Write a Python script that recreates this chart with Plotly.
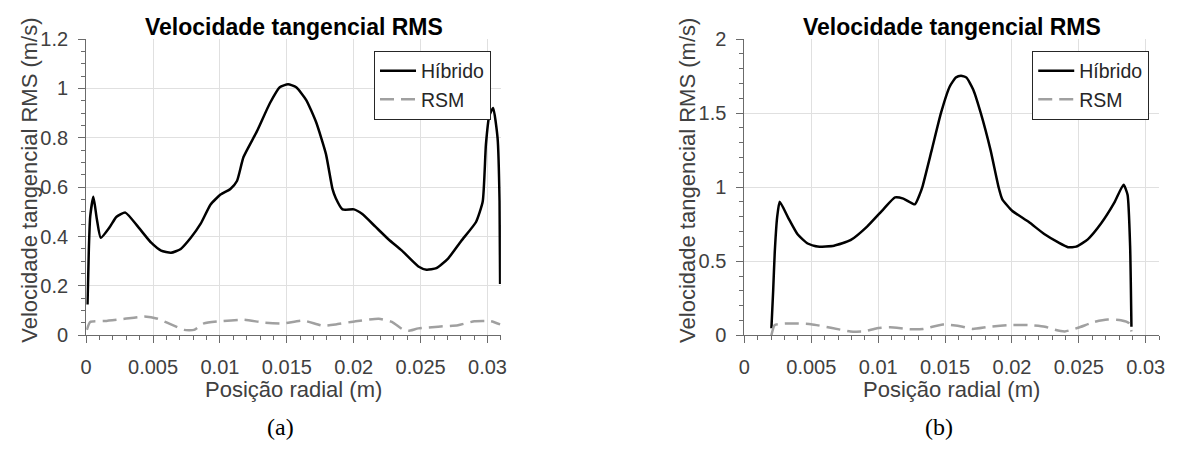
import plotly.graph_objects as go

# ---------------- data ----------------
# (a) Híbrido
x_hib_a = [0.0001, 0.0002, 0.0003, 0.00054, 0.0008, 0.00109, 0.00178, 0.00227, 0.00293,
           0.00387, 0.00486, 0.0056, 0.00634, 0.00707, 0.00782, 0.00856, 0.0093, 0.01004,
           0.01078, 0.01127, 0.01176, 0.01275, 0.01373, 0.01447, 0.01509, 0.0157, 0.01645,
           0.01719, 0.01792, 0.01841, 0.01866, 0.01916, 0.02002, 0.02064, 0.02162, 0.02261,
           0.0236, 0.02483, 0.02544, 0.02618, 0.02705, 0.02803, 0.02914, 0.02964, 0.02988,
           0.03013, 0.03042, 0.03075, 0.0309, 0.03094]
y_hib_a = [0.125, 0.35, 0.48, 0.561, 0.47, 0.395, 0.44, 0.48, 0.497,
           0.44, 0.375, 0.343, 0.334, 0.35, 0.395, 0.452, 0.53, 0.57,
           0.593, 0.625, 0.722, 0.825, 0.94, 1.005, 1.017, 1.005, 0.953,
           0.863, 0.735, 0.593, 0.555, 0.51, 0.51, 0.491, 0.44, 0.388,
           0.343, 0.279, 0.266, 0.272, 0.311, 0.382, 0.459, 0.542, 0.773,
           0.889, 0.921, 0.8, 0.542, 0.208]
# (a) RSM
x_rsm_a = [0.00005, 0.0003, 0.0014, 0.00288, 0.00436, 0.00535, 0.00634, 0.00732, 0.00806,
           0.0088, 0.01004, 0.01176, 0.01324, 0.01472, 0.0162, 0.01768, 0.01866, 0.02014,
           0.02187, 0.02285, 0.0236, 0.02408, 0.02483, 0.02631, 0.02779, 0.02902, 0.03025,
           0.03094]
y_rsm_a = [0.022, 0.054, 0.058, 0.067, 0.076, 0.067, 0.044, 0.022, 0.022,
           0.048, 0.057, 0.063, 0.052, 0.048, 0.06, 0.039, 0.044, 0.057,
           0.067, 0.054, 0.026, 0.018, 0.028, 0.035, 0.041, 0.057, 0.057,
           0.044]
# (b) Híbrido
x_hib_b = [0.00202, 0.00215, 0.00227, 0.00245, 0.00264, 0.00325, 0.00399, 0.00473, 0.00547,
           0.0067, 0.00793, 0.00917, 0.0104, 0.01126, 0.01188, 0.01274, 0.0131, 0.0133,
           0.014, 0.01469, 0.01535, 0.0158, 0.01619, 0.0166, 0.0171, 0.01767, 0.0184,
           0.019, 0.01927, 0.02001, 0.02124, 0.02247, 0.02346, 0.02419, 0.02481, 0.02567,
           0.02667, 0.02765, 0.02834, 0.02864, 0.02883, 0.02893]
y_hib_b = [0.048, 0.3, 0.563, 0.8, 0.901, 0.798, 0.68, 0.62, 0.599,
           0.605, 0.642, 0.734, 0.852, 0.931, 0.923, 0.884, 0.95, 1.0,
           1.25, 1.5, 1.68, 1.74, 1.753, 1.74, 1.66, 1.5, 1.25,
           1.0, 0.92, 0.841, 0.766, 0.68, 0.627, 0.595, 0.599, 0.648,
           0.756, 0.895, 1.017, 0.949, 0.605, 0.058]
# (b) RSM
x_rsm_b = [0.00202, 0.00227, 0.00325, 0.00498, 0.00646, 0.00793, 0.00892, 0.00991, 0.01089,
           0.01237, 0.01336, 0.01484, 0.01632, 0.01706, 0.01829, 0.01977, 0.02124, 0.02247,
           0.02321, 0.02395, 0.02494, 0.02617, 0.02716, 0.02814, 0.02876, 0.02893]
y_rsm_b = [0.0, 0.069, 0.08, 0.075, 0.051, 0.026, 0.026, 0.048, 0.054,
           0.041, 0.043, 0.073, 0.058, 0.043, 0.058, 0.069, 0.069, 0.058,
           0.037, 0.026, 0.051, 0.09, 0.106, 0.101, 0.08, 0.026]

x_ticks = [0, 0.005, 0.01, 0.015, 0.02, 0.025, 0.03]
x_ticktext = ["0", "0.005", "0.01", "0.015", "0.02", "0.025", "0.03"]
y_ticks_a = [0, 0.2, 0.4, 0.6, 0.8, 1.0, 1.2]
y_ticktext_a = ["0", "0.2", "0.4", "0.6", "0.8", "1", "1.2"]
y_ticks_b = [0, 0.5, 1.0, 1.5, 2.0]
y_ticktext_b = ["0", "0.5", "1", "1.5", "2"]

title_txt = "Velocidade tangencial RMS"
xlabel_txt = "Posição radial (m)"
ylabel_txt = "Velocidade tangencial RMS (m/s)"
names = ["Híbrido", "RSM"]
captions = ["(a)", "(b)"]

# ---------------- layout helpers ----------------
W, H = 1178, 457
def PX(p):
    return p / W
def PY(p):
    return 1 - p / H

FONT = "Liberation Sans, Arial, Helvetica, sans-serif"
AX = "#6b6b6b"
TXT = "#404040"
GRID = "#e0e0e0"

hib_line = dict(color="black", width=2.5, shape="spline", smoothing=0.5)
rsm_line = dict(color="#a0a0a0", width=2.5, dash="14px,7px", shape="spline", smoothing=0.5)

fig = go.Figure()
fig.add_trace(go.Scatter(x=x_hib_a, y=y_hib_a, mode="lines", name=names[0], line=hib_line,
                         xaxis="x", yaxis="y", legend="legend"))
fig.add_trace(go.Scatter(x=x_rsm_a, y=y_rsm_a, mode="lines", name=names[1], line=rsm_line,
                         xaxis="x", yaxis="y", legend="legend"))
fig.add_trace(go.Scatter(x=x_hib_b, y=y_hib_b, mode="lines", name=names[0], line=hib_line,
                         xaxis="x2", yaxis="y2", legend="legend2"))
fig.add_trace(go.Scatter(x=x_rsm_b, y=y_rsm_b, mode="lines", name=names[1], line=rsm_line,
                         xaxis="x2", yaxis="y2", legend="legend2"))

def axis(**kw):
    d = dict(showline=True, linecolor=AX, linewidth=1, ticks="outside", ticklen=7,
             tickwidth=1, tickcolor=AX, showgrid=True, gridcolor=GRID, gridwidth=1,
             zeroline=False, mirror=False, fixedrange=True,
             tickfont=dict(family=FONT, size=20, color=TXT))
    d.update(kw)
    return d

ydom = [PY(340.7), PY(29.5)]
dom_a = [PX(81), PX(500)]
dom_b = [PX(746), PX(1165)]

legend_common = dict(xanchor="right", yanchor="top", bgcolor="white", bordercolor="#262626",
                     borderwidth=1, font=dict(family=FONT, size=19.5, color="#262626"),
                     itemwidth=36, tracegroupgap=0)

fig.update_layout(
    width=W, height=H, margin=dict(l=0, r=0, t=0, b=0),
    paper_bgcolor="white", plot_bgcolor="white",
    xaxis=axis(domain=dom_a, range=[0, 0.031], tickvals=x_ticks, ticktext=x_ticktext,
               anchor="y", ticklabelstandoff=7,
               minor=dict(ticks="outside", ticklen=4, tickcolor=AX, dtick=0.001, tick0=0, showgrid=False)),
    yaxis=axis(domain=ydom, range=[0, 1.2], tickvals=y_ticks_a, ticktext=y_ticktext_a,
               anchor="x", ticklabelstandoff=6,
               minor=dict(ticks="outside", ticklen=4, tickcolor=AX, dtick=0.05, tick0=0, showgrid=False)),
    xaxis2=axis(domain=dom_b, range=[0, 0.031], tickvals=x_ticks, ticktext=x_ticktext,
                anchor="y2", ticklabelstandoff=7,
                minor=dict(ticks="outside", ticklen=4, tickcolor=AX, dtick=0.001, tick0=0, showgrid=False)),
    yaxis2=axis(domain=ydom, range=[0, 2], tickvals=y_ticks_b, ticktext=y_ticktext_b,
                anchor="x2", ticklabelstandoff=6,
                minor=dict(ticks="outside", ticklen=4, tickcolor=AX, dtick=0.1, tick0=0, showgrid=False)),
    legend=dict(x=PX(490), y=PY(41.7), **legend_common),
    legend2=dict(x=PX(1155), y=PY(41.7), **legend_common),
    showlegend=True,
)

ann = []
for cx in (290.5, 955.5):
    ann.append(dict(text="<b>" + title_txt + "</b>", x=PX(cx), y=PY(17), xref="paper", yref="paper",
                    xanchor="center", yanchor="middle", showarrow=False,
                    font=dict(family=FONT, size=23, color="black")))
    ann.append(dict(text=xlabel_txt, x=PX(cx), y=PY(398), xref="paper", yref="paper",
                    xanchor="center", yanchor="middle", showarrow=False,
                    font=dict(family=FONT, size=22, color=TXT)))
for cx in (24, 689):
    ann.append(dict(text=ylabel_txt, x=PX(cx), y=PY(177.5), xref="paper", yref="paper",
                    xanchor="center", yanchor="middle", showarrow=False, textangle=-90,
                    font=dict(family=FONT, size=22, color=TXT)))
for cx, cap in zip((277.5, 942.5), captions):
    ann.append(dict(text=cap, x=PX(cx), y=PY(437.5), xref="paper", yref="paper",
                    xanchor="center", yanchor="middle", showarrow=False,
                    font=dict(family="Liberation Serif, Times New Roman, serif", size=24, color="black")))
fig.update_layout(annotations=ann)

fig.write_html("out.html")
